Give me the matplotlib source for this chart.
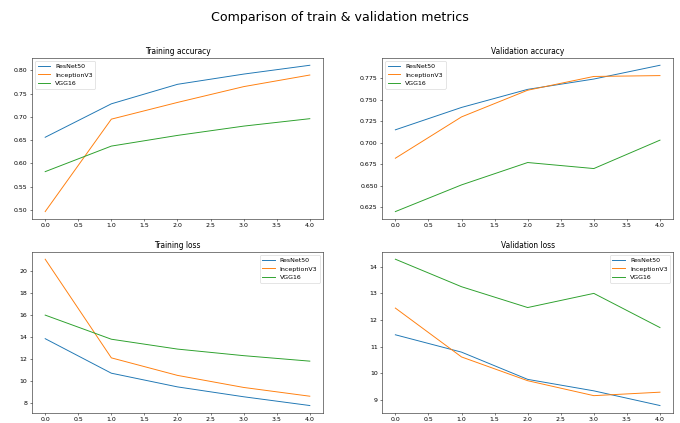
import matplotlib
matplotlib.use("Agg")
import matplotlib.pyplot as plt

epochs = [0, 1, 2, 3, 4]
models = ["ResNet50", "InceptionV3", "VGG16"]

train_acc = {
    "ResNet50": [0.656, 0.728, 0.770, 0.792, 0.811],
    "InceptionV3": [0.496, 0.695, 0.731, 0.765, 0.790],
    "VGG16": [0.582, 0.637, 0.660, 0.680, 0.696],
}
val_acc = {
    "ResNet50": [0.715, 0.741, 0.762, 0.774, 0.790],
    "InceptionV3": [0.682, 0.730, 0.761, 0.777, 0.778],
    "VGG16": [0.620, 0.651, 0.677, 0.670, 0.703],
}
train_loss = {
    "ResNet50": [13.85, 10.7, 9.45, 8.55, 7.75],
    "InceptionV3": [21.1, 12.1, 10.5, 9.4, 8.6],
    "VGG16": [16.0, 13.8, 12.9, 12.3, 11.8],
}
val_loss = {
    "ResNet50": [11.45, 10.8, 9.78, 9.35, 8.8],
    "InceptionV3": [12.45, 10.62, 9.73, 9.17, 9.3],
    "VGG16": [14.28, 13.25, 12.47, 13.0, 11.72],
}

W, H = 15, 15 * 423 / 680
DPI = 680 / W
fig, axes = plt.subplots(2, 2, figsize=(W, H), dpi=DPI)
fig.subplots_adjust(left=0.047, right=0.99, bottom=0.024, top=0.863,
                    wspace=0.203, hspace=0.205)
fig.suptitle("Comparison of train & validation metrics", fontsize=20, y=0.975)

panels = [
    (axes[0, 0], train_acc, "Training accuracy", "upper left"),
    (axes[0, 1], val_acc, "Validation accuracy", "upper left"),
    (axes[1, 0], train_loss, "Training loss", "upper right"),
    (axes[1, 1], val_loss, "Validation loss", "upper right"),
]
for ax, data, title, loc in panels:
    for m in models:
        ax.plot(epochs, data[m], label=m)
    ax.set_title(title)
    ax.legend(loc=loc)

fig.savefig("out.png", dpi=DPI)
